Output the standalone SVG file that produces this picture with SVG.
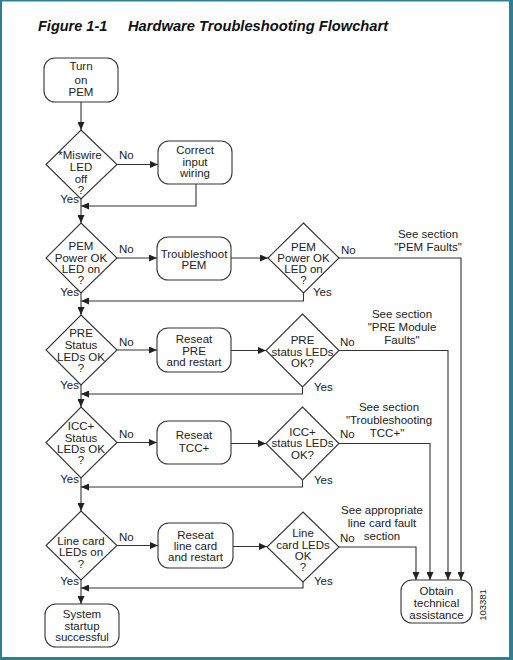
<svg xmlns="http://www.w3.org/2000/svg" width="513" height="660" viewBox="0 0 513 660">
<defs>
<style>
.n{fill:#fff;stroke:#333;stroke-width:1.1}
.t{font-family:"Liberation Sans",Arial,sans-serif;font-size:11.5px;fill:#222;text-anchor:middle}
.l{font-family:"Liberation Sans",Arial,sans-serif;font-size:11.5px;fill:#222}
.e{text-anchor:end}
.c{fill:none;stroke:#333;stroke-width:1.1}
.b{fill:#2b8093}
</style>
<marker id="a" markerUnits="userSpaceOnUse" markerWidth="9" markerHeight="7" refX="8" refY="3.5" orient="auto"><path d="M0,0 L8,3.5 L0,7 Z" fill="#222"/></marker>
</defs>
<rect width="513" height="660" fill="#fff"/>
<rect class="b" x="0" y="0" width="2" height="660"/>
<rect class="b" x="0" y="0" width="513" height="1.5"/>
<rect class="b" x="509" y="0" width="4" height="660"/>
<rect class="b" x="0" y="657" width="513" height="3"/>
<text x="38" y="31" style="font-family:'Liberation Sans',Arial,sans-serif;font-size:14.5px;font-weight:bold;font-style:italic;fill:#111">Figure 1-1</text>
<text x="128" y="31" style="font-family:'Liberation Sans',Arial,sans-serif;font-size:14.7px;font-weight:bold;font-style:italic;fill:#111">Hardware Troubleshooting Flowchart</text>

<g id="connectors">
<path class="c" d="M81,102 V130" marker-end="url(#a)"/>
<path class="c" d="M117,164.5 H158" marker-end="url(#a)"/>
<path class="c" d="M196,184 V206 H81" marker-end="url(#a)"/>
<path class="c" d="M81,199 V223" marker-end="url(#a)"/>
<path class="c" d="M117,258 H157" marker-end="url(#a)"/>
<path class="c" d="M231,258 H268" marker-end="url(#a)"/>
<path class="c" d="M339,258 H461 V580" marker-end="url(#a)"/>
<path class="c" d="M303.5,293 V301 H81" marker-end="url(#a)"/>
<path class="c" d="M81,293 V315" marker-end="url(#a)"/>
<path class="c" d="M117,350 H157" marker-end="url(#a)"/>
<path class="c" d="M231,350.5 H266" marker-end="url(#a)"/>
<path class="c" d="M339,350.5 H448 V580" marker-end="url(#a)"/>
<path class="c" d="M302.5,387 V394 H81" marker-end="url(#a)"/>
<path class="c" d="M81,385 V407" marker-end="url(#a)"/>
<path class="c" d="M117,442.5 H157" marker-end="url(#a)"/>
<path class="c" d="M231,443.5 H266" marker-end="url(#a)"/>
<path class="c" d="M339,443.5 H430 V580" marker-end="url(#a)"/>
<path class="c" d="M302.5,480 V487 H81" marker-end="url(#a)"/>
<path class="c" d="M81,478 V511" marker-end="url(#a)"/>
<path class="c" d="M117,545.5 H158" marker-end="url(#a)"/>
<path class="c" d="M233,546.5 H267" marker-end="url(#a)"/>
<path class="c" d="M339,547 H416 V580" marker-end="url(#a)"/>
<path class="c" d="M303,582 V588 H81" marker-end="url(#a)"/>
<path class="c" d="M81,580 V604" marker-end="url(#a)"/>
</g>

<g id="start">
<rect class="n" x="44" y="58" width="74" height="44" rx="11"/>
<text class="t" x="81" y="70">Turn</text><text class="t" x="81" y="84">on</text><text class="t" x="81" y="96">PEM</text>
</g>

<g id="miswire">
<path class="n" d="M81,130 L117,164.5 L81,199 L46,164.5 Z"/>
<text class="t" x="80" y="159">*Miswire</text><text class="t" x="81" y="171">LED</text><text class="t" x="81" y="183">off</text><text class="t" x="81" y="194">?</text>
<text class="l" x="119" y="159">No</text><text class="l e" x="79" y="203">Yes</text>
</g>
<g id="correct">
<rect class="n" x="158" y="141" width="74" height="43" rx="11"/>
<text class="t" x="195" y="154">Correct</text><text class="t" x="195" y="166">input</text><text class="t" x="195" y="177">wiring</text>
</g>

<g id="pem1">
<path class="n" d="M81,223 L117,258 L81,293 L46,258 Z"/>
<text class="t" x="81" y="250">PEM</text><text class="t" x="81" y="262">Power OK</text><text class="t" x="81" y="273">LED on</text><text class="t" x="81" y="284">?</text>
<text class="l" x="119" y="253">No</text><text class="l e" x="79" y="296">Yes</text>
</g>
<g id="tspem">
<rect class="n" x="157" y="237" width="74" height="43" rx="11"/>
<text class="t" x="194" y="258">Troubleshoot</text><text class="t" x="194" y="269">PEM</text>
</g>
<g id="pem2">
<path class="n" d="M303.5,223 L339,258 L303.5,293 L268,258 Z"/>
<text class="t" x="303.5" y="251">PEM</text><text class="t" x="303.5" y="262">Power OK</text><text class="t" x="303.5" y="273">LED on</text><text class="t" x="303.5" y="284">?</text>
<text class="l" x="341" y="254">No</text><text class="l" x="313" y="296">Yes</text>
<text class="t" x="428" y="238">See section</text><text class="t" x="428" y="251">"PEM Faults"</text>
</g>

<g id="pre1">
<path class="n" d="M81,315 L117,350 L81,385 L46,350 Z"/>
<text class="t" x="81" y="337">PRE</text><text class="t" x="81" y="349">Status</text><text class="t" x="81" y="361">LEDs OK</text><text class="t" x="81" y="372">?</text>
<text class="l" x="119" y="346">No</text><text class="l e" x="79" y="389">Yes</text>
</g>
<g id="reseatpre">
<rect class="n" x="157" y="328" width="74" height="44" rx="11"/>
<text class="t" x="194" y="343">Reseat</text><text class="t" x="194" y="355">PRE</text><text class="t" x="194" y="366">and restart</text>
</g>
<g id="pre2">
<path class="n" d="M302.5,314 L339,350.5 L302.5,387 L266,350.5 Z"/>
<text class="t" x="302.5" y="344">PRE</text><text class="t" x="302.5" y="356">status LEDs</text><text class="t" x="302.5" y="367">OK?</text>
<text class="l" x="340" y="346">No</text><text class="l" x="314" y="391">Yes</text>
<text class="t" x="402" y="318">See section</text><text class="t" x="402" y="331">"PRE Module</text><text class="t" x="402" y="344">Faults"</text>
</g>

<g id="icc1">
<path class="n" d="M81,407 L117,442.5 L81,478 L46,442.5 Z"/>
<text class="t" x="81" y="430">ICC+</text><text class="t" x="81" y="442">Status</text><text class="t" x="81" y="453">LEDs OK</text><text class="t" x="81" y="464">?</text>
<text class="l" x="119" y="438">No</text><text class="l e" x="79" y="483">Yes</text>
</g>
<g id="reseattcc">
<rect class="n" x="157" y="421" width="74" height="43" rx="11"/>
<text class="t" x="194" y="439">Reseat</text><text class="t" x="194" y="452">TCC+</text>
</g>
<g id="icc2">
<path class="n" d="M302.5,407 L339,443.5 L302.5,480 L266,443.5 Z"/>
<text class="t" x="302.5" y="436">ICC+</text><text class="t" x="302.5" y="447">status LEDs</text><text class="t" x="302.5" y="459">OK?</text>
<text class="l" x="340" y="438">No</text><text class="l" x="314" y="484">Yes</text>
<text class="t" x="389" y="411">See section</text><text class="t" x="389" y="424">"Troubleshooting</text><text class="t" x="387" y="437">TCC+"</text>
</g>

<g id="lc1">
<path class="n" d="M81,511 L117,545.5 L81,580 L46,545.5 Z"/>
<text class="t" x="81" y="544.5">Line card</text><text class="t" x="81" y="555.5">LEDs on</text><text class="t" x="81" y="567.5">?</text>
<text class="l" x="119" y="541">No</text><text class="l e" x="79" y="585">Yes</text>
</g>
<g id="reseatlc">
<rect class="n" x="158" y="523" width="75" height="45" rx="11"/>
<text class="t" x="195.5" y="539">Reseat</text><text class="t" x="195.5" y="550">line card</text><text class="t" x="195.5" y="561">and restart</text>
</g>
<g id="lc2">
<path class="n" d="M303,512 L339,547 L303,582 L267,547 Z"/>
<text class="t" x="303" y="537">Line</text><text class="t" x="303" y="549">card LEDs</text><text class="t" x="303" y="560">OK</text><text class="t" x="303" y="571">?</text>
<text class="l" x="340" y="542">No</text><text class="l" x="314" y="585">Yes</text>
<text class="t" x="382" y="514">See appropriate</text><text class="t" x="382" y="527">line card fault</text><text class="t" x="382" y="540">section</text>
</g>

<g id="system">
<rect class="n" x="45" y="604" width="74" height="43" rx="11"/>
<text class="t" x="82" y="618">System</text><text class="t" x="82" y="630">startup</text><text class="t" x="82" y="641">successful</text>
</g>
<g id="obtain">
<rect class="n" x="401" y="580" width="71" height="43" rx="11"/>
<text class="t" x="436.5" y="595">Obtain</text><text class="t" x="436.5" y="607">technical</text><text class="t" x="436.5" y="619">assistance</text>
</g>
<text transform="translate(485.5,605) rotate(-90)" style="font-family:'Liberation Sans',Arial,sans-serif;font-size:9.5px;fill:#222;text-anchor:middle">103381</text>
</svg>
